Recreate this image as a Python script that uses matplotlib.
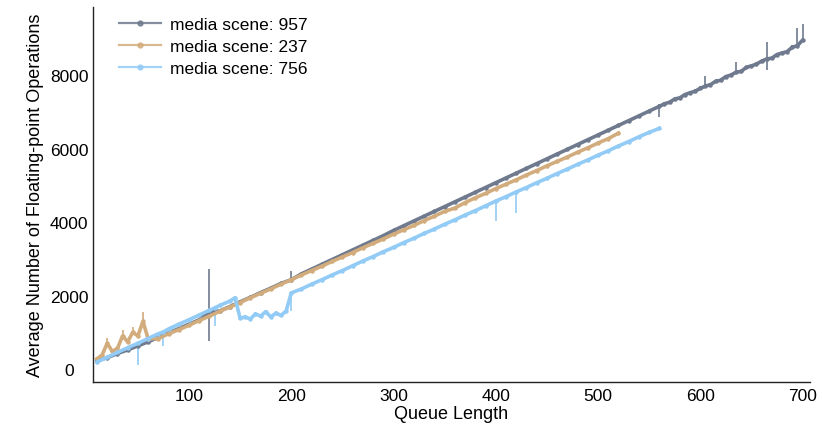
import matplotlib
matplotlib.use("Agg")
import matplotlib.pyplot as plt
from matplotlib.lines import Line2D

plt.rcParams['font.family'] = ['Liberation Sans', 'DejaVu Sans']

# series: media scene 957
x_957 = [10, 20, 30, 40, 50, 60, 70, 80, 90, 100, 110, 120, 130, 140, 150, 160, 170, 180, 190, 200,
         210, 220, 230, 240, 250, 260, 270, 280, 290, 300, 310, 320, 330, 340, 350, 360, 370, 380, 390, 400,
         410, 420, 430, 440, 450, 460, 470, 480, 490, 500, 510, 520, 530, 540, 550, 560,
         565, 570, 575, 580, 585, 590, 595, 600, 605, 610, 615, 620, 625, 630, 635, 640, 645, 650,
         655, 660, 665, 670, 675, 680, 685, 690, 695, 700]
y_957 = [220, 310, 420, 520, 630, 740, 860, 980, 1100, 1220, 1340, 1560, 1580, 1700, 1830, 1950, 2080, 2200, 2330, 2430,
         2590, 2720, 2850, 2980, 3110, 3240, 3370, 3500, 3630, 3770, 3900, 4030, 4160, 4290, 4420, 4550, 4680, 4810, 4940, 5070,
         5200, 5330, 5460, 5590, 5720, 5850, 5980, 6110, 6240, 6370, 6500, 6630, 6760, 6890, 7020, 7150,
         7220, 7260, 7350, 7380, 7470, 7520, 7560, 7640, 7700, 7740, 7830, 7860, 7960, 8000, 8080, 8100, 8210, 8250,
         8300, 8380, 8440, 8460, 8560, 8600, 8640, 8760, 8800, 8950]
lo_957 = [30, 30, 30, 30, 30, 30, 30, 30, 30, 30, 30, 800, 30, 30, 30, 30, 30, 30, 30, 30,
          30, 30, 30, 30, 30, 30, 30, 30, 30, 30, 30, 30, 30, 30, 30, 30, 30, 30, 30, 30,
          30, 30, 30, 30, 30, 30, 30, 30, 30, 30, 30, 30, 30, 30, 30, 280,
          50, 50, 50, 50, 50, 50, 50, 50, 50, 50, 50, 50, 50, 50, 50, 50, 50, 50,
          50, 50, 300, 50, 50, 50, 50, 50, 50, 50]
hi_957 = [30, 30, 30, 30, 30, 30, 30, 30, 30, 30, 30, 1150, 30, 30, 30, 30, 30, 30, 30, 250,
          30, 30, 30, 30, 30, 30, 30, 30, 30, 30, 30, 30, 30, 30, 30, 30, 30, 30, 30, 30,
          30, 30, 30, 30, 30, 30, 30, 30, 30, 30, 30, 30, 30, 30, 30, 50,
          50, 50, 50, 50, 50, 50, 50, 50, 280, 50, 50, 50, 50, 50, 280, 50, 50, 50,
          50, 50, 450, 50, 50, 50, 50, 50, 480, 430]

# series: media scene 237
x_237 = [10, 15, 20, 25, 30, 35, 40, 45, 50, 55, 60, 70, 80, 90, 100, 110, 120, 130, 140, 150,
         160, 170, 180, 190, 200, 210, 220, 230, 240, 250, 260, 270, 280, 290, 300, 310, 320, 330, 340, 350,
         360, 370, 380, 390, 400, 410, 420, 430, 440, 450, 460, 470, 480, 490, 500, 510, 520]
y_237 = [280, 380, 700, 480, 560, 900, 740, 1000, 900, 1300, 820, 830, 960, 1070, 1190, 1320, 1440, 1570, 1690, 1810,
         1940, 2060, 2180, 2310, 2430, 2560, 2680, 2800, 2930, 3050, 3170, 3300, 3420, 3540, 3670, 3790, 3910, 4040, 4160, 4290,
         4380, 4530, 4660, 4780, 4910, 5030, 5150, 5280, 5400, 5530, 5650, 5770, 5900, 6020, 6150, 6270, 6420]
lo_237 = [30, 30, 60, 30, 30, 60, 30, 60, 30, 60, 30, 30, 30, 30, 30, 30, 30, 30, 30, 30,
          30, 30, 30, 30, 30, 30, 30, 30, 30, 30, 30, 30, 30, 30, 30, 30, 30, 30, 30, 30,
          30, 30, 30, 30, 30, 30, 30, 30, 30, 30, 30, 30, 30, 30, 30, 30, 30]
hi_237 = [30, 30, 150, 30, 30, 150, 30, 150, 30, 250, 30, 30, 30, 30, 30, 30, 30, 30, 30, 30,
          30, 30, 30, 30, 30, 30, 30, 30, 30, 30, 30, 30, 30, 30, 30, 30, 30, 30, 30, 30,
          30, 30, 30, 30, 30, 30, 30, 30, 30, 30, 30, 30, 30, 30, 30, 30, 30]

# series: media scene 756
x_756 = [10, 20, 30, 40, 50, 60, 70, 75, 80, 90, 100, 110, 120, 125, 130, 140, 145,
         150, 155, 160, 165, 170, 175, 180, 185, 190, 195, 200,
         210, 220, 230, 240, 250, 260, 270, 280, 290, 300, 310, 320, 330, 340, 350, 360, 370, 380, 390, 400,
         410, 420, 430, 440, 450, 460, 470, 480, 490, 500, 510, 520, 530, 540, 550, 560]
y_756 = [190, 320, 450, 580, 700, 830, 960, 1010, 1090, 1220, 1340, 1470, 1600, 1660, 1730, 1850, 1940,
         1380, 1420, 1360, 1500, 1440, 1560, 1420, 1520, 1460, 1580, 2070,
         2180, 2310, 2430, 2560, 2680, 2810, 2940, 3060, 3190, 3310, 3440, 3560, 3690, 3810, 3940, 4060, 4190, 4310, 4440, 4570,
         4690, 4820, 4940, 5070, 5190, 5320, 5440, 5570, 5690, 5820, 5940, 6070, 6190, 6320, 6440, 6550]
lo_756 = [30, 30, 30, 30, 600, 30, 30, 380, 30, 30, 30, 30, 30, 500, 30, 30, 30,
          50, 50, 50, 50, 50, 50, 50, 50, 50, 50, 480,
          30, 30, 30, 30, 30, 30, 30, 30, 30, 30, 30, 30, 30, 30, 30, 30, 30, 30, 30, 540,
          30, 580, 30, 30, 30, 30, 30, 30, 30, 30, 30, 30, 30, 30, 30, 30]
hi_756 = [30, 30, 30, 30, 30, 30, 30, 30, 30, 30, 30, 30, 30, 30, 30, 30, 30,
          50, 50, 50, 50, 50, 50, 50, 50, 50, 50, 30,
          30, 30, 30, 30, 30, 30, 30, 30, 30, 30, 30, 30, 30, 30, 30, 30, 30, 30, 30, 30,
          30, 30, 30, 30, 30, 30, 30, 30, 30, 30, 30, 30, 30, 30, 30, 30]

series = [
    (x_957, y_957, lo_957, hi_957, '#6f7a8e', 'media scene: 957'),
    (x_237, y_237, lo_237, hi_237, '#d2ac7c', 'media scene: 237'),
    (x_756, y_756, lo_756, hi_756, '#92cbf5', 'media scene: 756'),
]

fig = plt.figure(figsize=(8.22, 4.27), dpi=100)
ax = fig.add_axes([0.113, 0.103, 0.872, 0.878])

handles = []
for xs, ys, lo, hi, col, lab in series:
    ax.errorbar(xs, ys, yerr=[lo, hi], fmt='-o', color=col, lw=2.6, ms=2.2,
                elinewidth=1.2, capsize=0)
    handles.append(Line2D([], [], color=col, lw=1.6, marker='o', ms=3.5, alpha=0.85, label=lab))

ax.set_xlim(6, 707)
ax.set_ylim(-354, 9850)
ax.set_xticks([100, 200, 300, 400, 500, 600, 700])
ax.set_yticks([0, 2000, 4000, 6000, 8000])
ax.tick_params(axis='both', length=0, labelsize=12.5)
ax.tick_params(axis='y', pad=17)
ax.tick_params(axis='x', pad=4)
for lbl in ax.get_yticklabels():
    lbl.set_horizontalalignment('center')

for side in ['top', 'right']:
    ax.spines[side].set_visible(False)
for side in ['left', 'bottom']:
    ax.spines[side].set_color('#222222')
    ax.spines[side].set_linewidth(1.0)

ax.set_xlabel('Queue Length', fontsize=13, labelpad=2)
ax.set_ylabel('Average Number of Floating-point Operations', fontsize=13, labelpad=4)

ax.legend(handles=handles, loc='upper left', bbox_to_anchor=(0.015, 1.015), frameon=False,
          fontsize=12.5, handlelength=2.4, labelspacing=0.38, handletextpad=0.5)

fig.savefig('out.png', dpi=100)
